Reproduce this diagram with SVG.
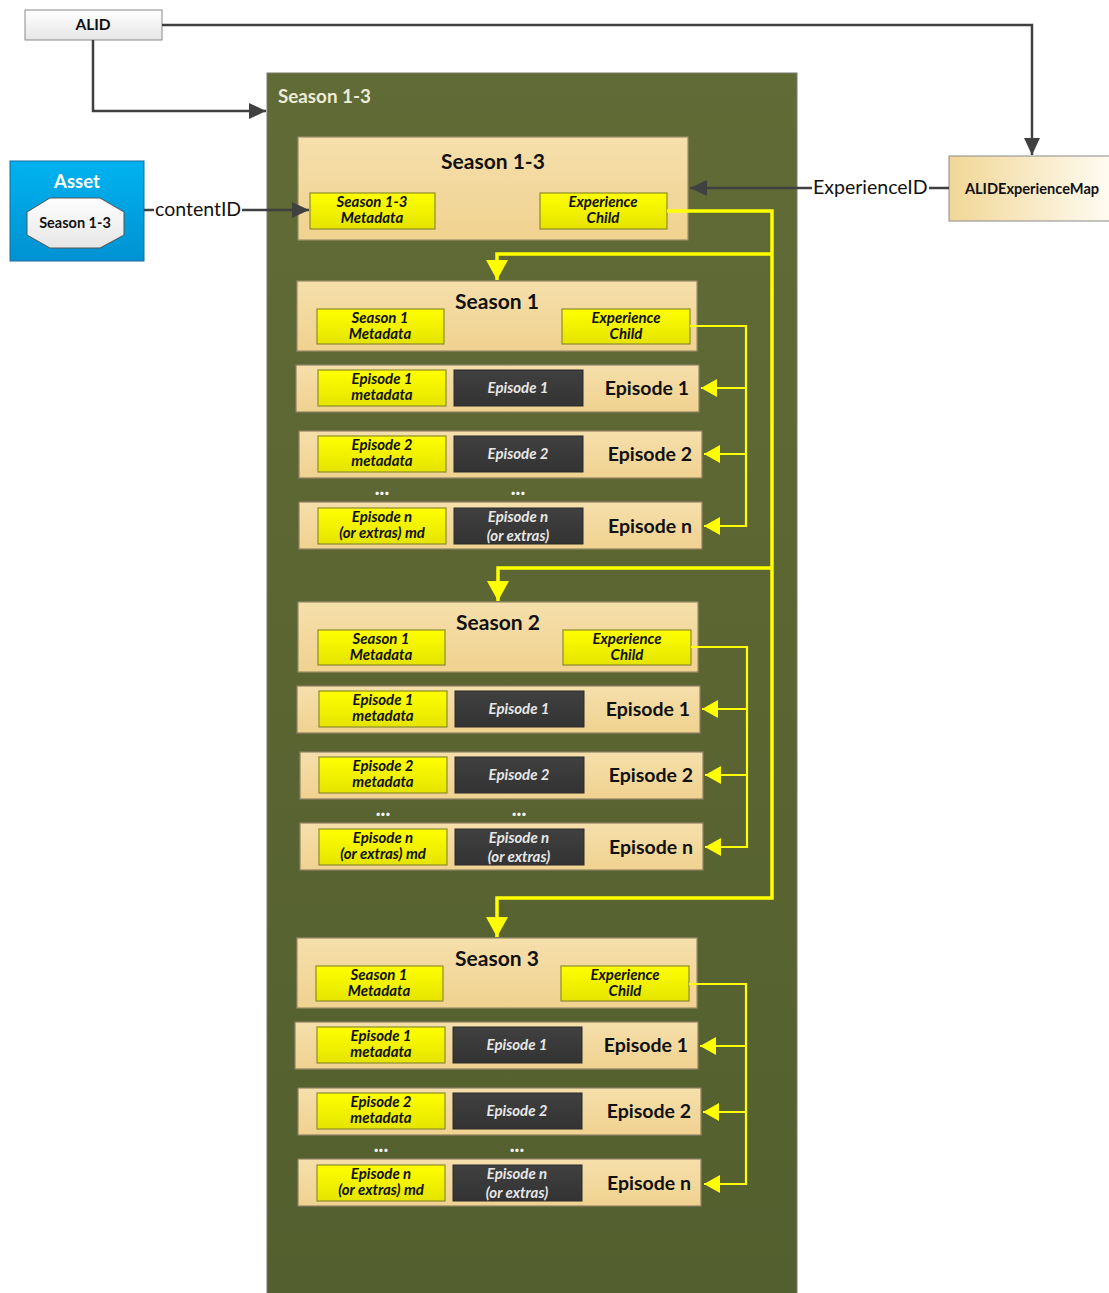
<svg xmlns="http://www.w3.org/2000/svg" width="1109" height="1293" viewBox="0 0 1109 1293">
<style>
  text { font-family: Lato, "Open Sans", "Liberation Sans", sans-serif; }
  .season { fill: url(#tan); stroke: #9c8c68; stroke-width: 1.2; }
  .row { fill: url(#tan); stroke: #8f8266; stroke-width: 1.2; }
  .yel { fill: url(#yel); stroke: #8c8c2a; stroke-width: 1.2; }
  .dark { fill: url(#dk); stroke: #2a2a2a; stroke-width: 1; }
  .ytxt { font-size: 15px; font-weight: bold; font-style: italic; fill: #111; text-anchor: middle; }
  .dtxt { font-size: 15px; font-weight: bold; font-style: italic; fill: #e6e6e6; text-anchor: middle; }
  .stitle { font-size: 21px; font-weight: bold; fill: #111; text-anchor: middle; }
  .etitle { font-size: 19.5px; font-weight: bold; fill: #111; text-anchor: end; }
  .dots { font-size: 20px; font-weight: 900; fill: #f4f4f4; text-anchor: middle; }
  .gline { fill: none; stroke: #404040; stroke-width: 2.5; }
  .ymain { fill: none; stroke: #ffff00; stroke-width: 3.5; }
  .yin { fill: none; stroke: #ffff00; stroke-width: 2.2; }
  .lbl { font-size: 19.5px; fill: #111; }
</style>
<defs>
  <linearGradient id="green" x1="0" y1="0" x2="0" y2="1">
    <stop offset="0" stop-color="#606b36"/>
    <stop offset="1" stop-color="#545f2f"/>
  </linearGradient>
  <linearGradient id="tan" x1="0" y1="0" x2="0" y2="1">
    <stop offset="0" stop-color="#f5dfab"/>
    <stop offset="1" stop-color="#f0d290"/>
  </linearGradient>
  <linearGradient id="yel" x1="0" y1="0" x2="0" y2="1">
    <stop offset="0" stop-color="#ffff00"/>
    <stop offset="1" stop-color="#e4e400"/>
  </linearGradient>
  <linearGradient id="dk" x1="0" y1="0" x2="0" y2="1">
    <stop offset="0" stop-color="#404040"/>
    <stop offset="1" stop-color="#333333"/>
  </linearGradient>
  <linearGradient id="blue" x1="0" y1="0" x2="0" y2="1">
    <stop offset="0" stop-color="#00b2f0"/>
    <stop offset="1" stop-color="#0092d2"/>
  </linearGradient>
  <linearGradient id="white" x1="0" y1="0" x2="0" y2="1">
    <stop offset="0" stop-color="#ffffff"/>
    <stop offset="1" stop-color="#e6e6e6"/>
  </linearGradient>
  <linearGradient id="map" x1="0" y1="0" x2="1" y2="0">
    <stop offset="0" stop-color="#f1d796"/>
    <stop offset="1" stop-color="#fffcf4"/>
  </linearGradient>
  <marker id="ga" markerUnits="userSpaceOnUse" markerWidth="18" markerHeight="16" refX="17" refY="8" orient="auto">
    <path d="M0,0 L17,8 L0,16 z" fill="#404040"/>
  </marker>
  <marker id="yaBig" markerUnits="userSpaceOnUse" markerWidth="20" markerHeight="22" refX="20" refY="11" orient="auto">
    <path d="M0,0 L20,11 L0,22 z" fill="#ffff00"/>
  </marker>
  <marker id="yaSm" markerUnits="userSpaceOnUse" markerWidth="16" markerHeight="18" refX="16" refY="9" orient="auto">
    <path d="M0,0 L16,9 L0,18 z" fill="#ffff00"/>
  </marker>
</defs>

<rect width="1109" height="1293" fill="#ffffff"/>

<g id="container">
  <rect x="267" y="73" width="530" height="1225" fill="url(#green)" stroke="#7a7a6a" stroke-width="1"/>
  <text x="278" y="103" font-size="18.8" font-weight="bold" fill="#ecebd8">Season 1-3</text>
</g>

<g id="alid">
  <rect x="25" y="10" width="137" height="30" fill="url(#white)" stroke="#8a8a8a" stroke-width="1"/>
  <text x="93" y="30" font-size="15.5" font-weight="bold" fill="#111" text-anchor="middle">ALID</text>
</g>

<g id="asset">
  <rect x="10" y="161" width="134" height="100" fill="url(#blue)" stroke="#1a6a9a" stroke-width="1"/>
  <text x="77" y="188" font-size="18.5" font-weight="bold" fill="#ffffff" text-anchor="middle">Asset</text>
  <polygon points="50,198 100,198 124,212 124,235 100,248 50,248 27,235 27,212" fill="url(#white)" stroke="#555" stroke-width="1"/>
  <text x="75" y="228" font-size="14.5" font-weight="bold" fill="#111" text-anchor="middle">Season 1-3</text>
</g>

<g id="alidmap">
  <rect x="949" y="156" width="165" height="65" fill="url(#map)" stroke="#8a8a8a" stroke-width="1"/>
  <text x="1032" y="194" font-size="14.6" font-weight="bold" fill="#111" text-anchor="middle">ALIDExperienceMap</text>
</g>

<g id="season13">
  <rect class="season" x="298" y="137" width="390" height="103"/>
  <text class="stitle" x="493" y="169">Season 1-3</text>
  <rect class="yel" x="310" y="193" width="125" height="36"/>
  <text class="ytxt" x="372" y="207">Season 1-3</text>
  <text class="ytxt" x="372" y="223">Metadata</text>
  <rect class="yel" x="540" y="193" width="127" height="36"/>
  <text class="ytxt" x="603" y="207">Experience</text>
  <text class="ytxt" x="603" y="223">Child</text>
</g>

<g id="season1">
  <rect class="season" x="297" y="281" width="400" height="70"/>
  <text class="stitle" x="497" y="309">Season 1</text>
  <rect class="yel" x="317" y="309" width="127" height="35"/>
  <text class="ytxt" x="380" y="323">Season 1</text>
  <text class="ytxt" x="380" y="339">Metadata</text>
  <rect class="yel" x="562" y="309" width="128" height="35"/>
  <text class="ytxt" x="626" y="323">Experience</text>
  <text class="ytxt" x="626" y="339">Child</text>
  <g id="s1e1">
    <rect class="row" x="296" y="365" width="403" height="47"/>
    <rect class="yel" x="318" y="370" width="128" height="36"/>
    <text class="ytxt" x="382" y="384">Episode 1</text>
    <text class="ytxt" x="382" y="400">metadata</text>
    <rect class="dark" x="454" y="370" width="129" height="36"/>
    <text class="dtxt" x="518" y="393">Episode 1</text>
    <text class="etitle" x="689" y="395">Episode 1</text>
  </g>
  <g id="s1e2">
    <rect class="row" x="299" y="431" width="403" height="47"/>
    <rect class="yel" x="318" y="436" width="128" height="36"/>
    <text class="ytxt" x="382" y="450">Episode 2</text>
    <text class="ytxt" x="382" y="466">metadata</text>
    <rect class="dark" x="454" y="436" width="129" height="36"/>
    <text class="dtxt" x="518" y="459">Episode 2</text>
    <text class="etitle" x="692" y="461">Episode 2</text>
  </g>
  <text class="dots" x="382" y="495">...</text>
  <text class="dots" x="518" y="495">...</text>
  <g id="s1en">
    <rect class="row" x="299" y="502" width="403" height="47"/>
    <rect class="yel" x="318" y="508" width="128" height="36"/>
    <text class="ytxt" x="382" y="522">Episode n</text>
    <text class="ytxt" x="382" y="538">(or extras) md</text>
    <rect class="dark" x="454" y="508" width="129" height="36"/>
    <text class="dtxt" x="518" y="522">Episode n</text>
    <text class="dtxt" x="518" y="541">(or extras)</text>
    <text class="etitle" x="692" y="533">Episode n</text>
  </g>
</g>

<g id="season2" transform="translate(1,321)">
  <rect class="season" x="297" y="281" width="400" height="70"/>
  <text class="stitle" x="497" y="309">Season 2</text>
  <rect class="yel" x="317" y="309" width="127" height="35"/>
  <text class="ytxt" x="380" y="323">Season 1</text>
  <text class="ytxt" x="380" y="339">Metadata</text>
  <rect class="yel" x="562" y="309" width="128" height="35"/>
  <text class="ytxt" x="626" y="323">Experience</text>
  <text class="ytxt" x="626" y="339">Child</text>
  <g id="s2e1">
    <rect class="row" x="296" y="365" width="403" height="47"/>
    <rect class="yel" x="318" y="370" width="128" height="36"/>
    <text class="ytxt" x="382" y="384">Episode 1</text>
    <text class="ytxt" x="382" y="400">metadata</text>
    <rect class="dark" x="454" y="370" width="129" height="36"/>
    <text class="dtxt" x="518" y="393">Episode 1</text>
    <text class="etitle" x="689" y="395">Episode 1</text>
  </g>
  <g id="s2e2">
    <rect class="row" x="299" y="431" width="403" height="47"/>
    <rect class="yel" x="318" y="436" width="128" height="36"/>
    <text class="ytxt" x="382" y="450">Episode 2</text>
    <text class="ytxt" x="382" y="466">metadata</text>
    <rect class="dark" x="454" y="436" width="129" height="36"/>
    <text class="dtxt" x="518" y="459">Episode 2</text>
    <text class="etitle" x="692" y="461">Episode 2</text>
  </g>
  <text class="dots" x="382" y="495">...</text>
  <text class="dots" x="518" y="495">...</text>
  <g id="s2en">
    <rect class="row" x="299" y="502" width="403" height="47"/>
    <rect class="yel" x="318" y="508" width="128" height="36"/>
    <text class="ytxt" x="382" y="522">Episode n</text>
    <text class="ytxt" x="382" y="538">(or extras) md</text>
    <rect class="dark" x="454" y="508" width="129" height="36"/>
    <text class="dtxt" x="518" y="522">Episode n</text>
    <text class="dtxt" x="518" y="541">(or extras)</text>
    <text class="etitle" x="692" y="533">Episode n</text>
  </g>
</g>

<g id="season3" transform="translate(0,657)">
  <rect class="season" x="297" y="281" width="400" height="70"/>
  <text class="stitle" x="497" y="309">Season 3</text>
  <rect class="yel" x="316" y="309" width="127" height="35"/>
  <text class="ytxt" x="379" y="323">Season 1</text>
  <text class="ytxt" x="379" y="339">Metadata</text>
  <rect class="yel" x="561" y="309" width="128" height="35"/>
  <text class="ytxt" x="625" y="323">Experience</text>
  <text class="ytxt" x="625" y="339">Child</text>
  <g id="s3e1">
    <rect class="row" x="295" y="365" width="403" height="47"/>
    <rect class="yel" x="317" y="370" width="128" height="36"/>
    <text class="ytxt" x="381" y="384">Episode 1</text>
    <text class="ytxt" x="381" y="400">metadata</text>
    <rect class="dark" x="453" y="370" width="129" height="36"/>
    <text class="dtxt" x="517" y="393">Episode 1</text>
    <text class="etitle" x="688" y="395">Episode 1</text>
  </g>
  <g id="s3e2">
    <rect class="row" x="298" y="431" width="403" height="47"/>
    <rect class="yel" x="317" y="436" width="128" height="36"/>
    <text class="ytxt" x="381" y="450">Episode 2</text>
    <text class="ytxt" x="381" y="466">metadata</text>
    <rect class="dark" x="453" y="436" width="129" height="36"/>
    <text class="dtxt" x="517" y="459">Episode 2</text>
    <text class="etitle" x="691" y="461">Episode 2</text>
  </g>
  <text class="dots" x="381" y="495">...</text>
  <text class="dots" x="517" y="495">...</text>
  <g id="s3en">
    <rect class="row" x="298" y="502" width="403" height="47"/>
    <rect class="yel" x="317" y="508" width="128" height="36"/>
    <text class="ytxt" x="381" y="522">Episode n</text>
    <text class="ytxt" x="381" y="538">(or extras) md</text>
    <rect class="dark" x="453" y="508" width="129" height="36"/>
    <text class="dtxt" x="517" y="522">Episode n</text>
    <text class="dtxt" x="517" y="541">(or extras)</text>
    <text class="etitle" x="691" y="533">Episode n</text>
  </g>
</g>

<g id="connectors">
  <path class="gline" d="M162,25 H1032 V155" marker-end="url(#ga)"/>
  <path class="gline" d="M93,40 V111 H266" marker-end="url(#ga)"/>
  <path class="gline" d="M144,210 H154"/>
  <path class="gline" d="M242,210 H309" marker-end="url(#ga)"/>
  <text class="lbl" x="155" y="216">contentID</text>
  <path class="gline" d="M949,188 H929"/>
  <path class="gline" d="M812,188 H690" marker-end="url(#ga)"/>
  <text class="lbl" x="813" y="194">ExperienceID</text>

  <path class="ymain" d="M667,211 H772 V898 H497 V937" marker-end="url(#yaBig)"/>
  <path class="ymain" d="M772,254 H497 V280" marker-end="url(#yaBig)"/>
  <path class="ymain" d="M772,568 H498 V601" marker-end="url(#yaBig)"/>

  <path class="yin" d="M690,326 H746 V526 H704" marker-end="url(#yaSm)"/>
  <path class="yin" d="M746,388 H701" marker-end="url(#yaSm)"/>
  <path class="yin" d="M746,454 H704" marker-end="url(#yaSm)"/>

  <path class="yin" d="M691,647 H747 V847 H705" marker-end="url(#yaSm)"/>
  <path class="yin" d="M747,709 H702" marker-end="url(#yaSm)"/>
  <path class="yin" d="M747,775 H705" marker-end="url(#yaSm)"/>

  <path class="yin" d="M689,984 H746 V1184 H704" marker-end="url(#yaSm)"/>
  <path class="yin" d="M746,1046 H700" marker-end="url(#yaSm)"/>
  <path class="yin" d="M746,1112 H703" marker-end="url(#yaSm)"/>
</g>
</svg>
